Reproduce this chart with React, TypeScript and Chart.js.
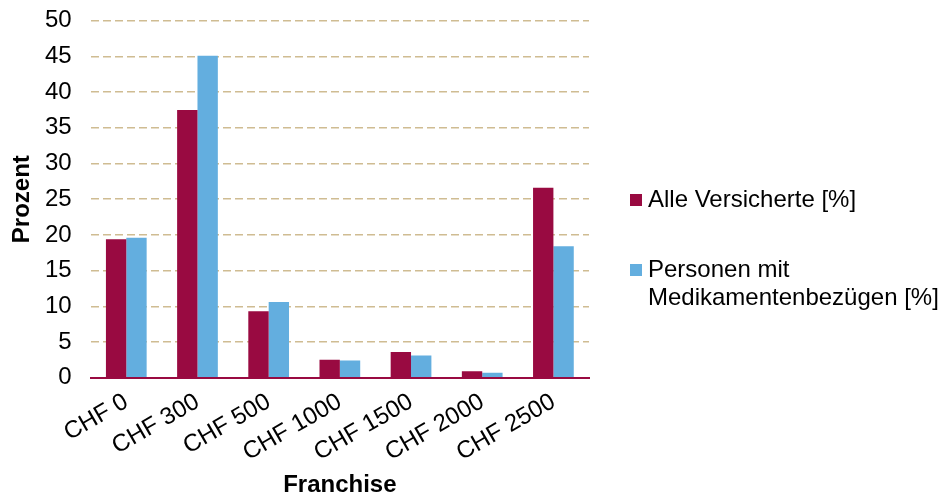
import React, { useEffect, useRef } from "react";
import { Chart, registerables } from "chart.js";

Chart.register(...registerables);

const categories = ["CHF 0", "CHF 300", "CHF 500", "CHF 1000", "CHF 1500", "CHF 2000", "CHF 2500"];
const alleVersicherte = [19.4, 37.5, 9.3, 2.5, 3.6, 0.9, 26.6];
const medikamentenbezueger = [19.6, 45.1, 10.6, 2.4, 3.1, 0.7, 18.4];
const seriesLabels = ["Alle Versicherte [%]", "Personen mit Medikamentenbezügen [%]"];
const legendLines = [["Alle Versicherte [%]"], ["Personen mit", "Medikamentenbezügen [%]"]];
const yTicks = [0, 5, 10, 15, 20, 25, 30, 35, 40, 45, 50];

const RED = "#990A41";
const BLUE = "#63AEDF";
const FONT = "Arial, 'Liberation Sans', sans-serif";
const FS = 24;

const legendPlugin = {
  id: "sideLegend",
  afterDraw(chart: any) {
    const ctx = chart.ctx;
    ctx.save();
    ctx.font = `${FS}px ${FONT}`;
    ctx.textBaseline = "middle";
    ctx.textAlign = "left";
    const starts = [200, 270];
    chart.data.datasets.forEach((ds: any, i: number) => {
      const y0 = starts[i];
      ctx.fillStyle = ds.backgroundColor;
      ctx.fillRect(630, y0 - 6, 12, 12);
      ctx.fillStyle = "#000";
      legendLines[i].forEach((line, j) => {
        ctx.fillText(line, 648, y0 + j * 28);
      });
    });
    ctx.restore();
  },
};

export default function App() {
  const ref = useRef<HTMLCanvasElement>(null);
  useEffect(() => {
    document.body.style.margin = "0";
    const chart = new Chart(ref.current!, {
      type: "bar",
      data: {
        labels: categories,
        datasets: [
          { label: seriesLabels[0], data: alleVersicherte, backgroundColor: RED, barPercentage: 1, categoryPercentage: 0.572 },
          { label: seriesLabels[1], data: medikamentenbezueger, backgroundColor: BLUE, barPercentage: 1, categoryPercentage: 0.572 },
        ],
      },
      options: {
        responsive: false,
        animation: false,
        layout: { padding: { top: 20.7, right: 351, left: 0, bottom: 0 } },
        plugins: { legend: { display: false }, tooltip: { enabled: false } },
        scales: {
          x: {
            grid: { display: false, drawTicks: false },
            border: { display: true, color: RED, width: 2 },
            ticks: {
              color: "#000",
              font: { family: FONT, size: FS },
              minRotation: 30,
              maxRotation: 30,
              padding: 10,
            },
            title: {
              display: true,
              text: "Franchise",
              color: "#000",
              font: { family: FONT, size: FS, weight: "bold", lineHeight: 0.8 },
              padding: { top: 0, bottom: 0 },
            },
            afterFit(scale: any) {
              scale.height = 495 - 377.7;
            },
          },
          y: {
            min: 0,
            max: 50,
            afterBuildTicks(scale: any) {
              scale.ticks = yTicks.map((v) => ({ value: v }));
            },
            grid: {
              drawTicks: false,
              color: (c: any) => (c.tick && c.tick.value === 0 ? "rgba(0,0,0,0)" : "#CFBC92"),
              lineWidth: 1.5,
            },
            border: { display: false, dash: [8, 4] },
            ticks: {
              color: "#000",
              font: { family: FONT, size: FS },
              padding: 19,
            },
            title: {
              display: true,
              text: "Prozent",
              color: "#000",
              font: { family: FONT, size: FS, weight: "bold" },
              padding: { top: 8, bottom: 0 },
            },
            afterFit(scale: any) {
              scale.width = 90.7;
              scale.paddingTop = 0;
              scale.paddingBottom = 0;
            },
          },
        },
      },
      plugins: [legendPlugin],
    });
    return () => chart.destroy();
  }, []);
  return <canvas ref={ref} width={940} height={495} style={{ display: "block" }} />;
}
